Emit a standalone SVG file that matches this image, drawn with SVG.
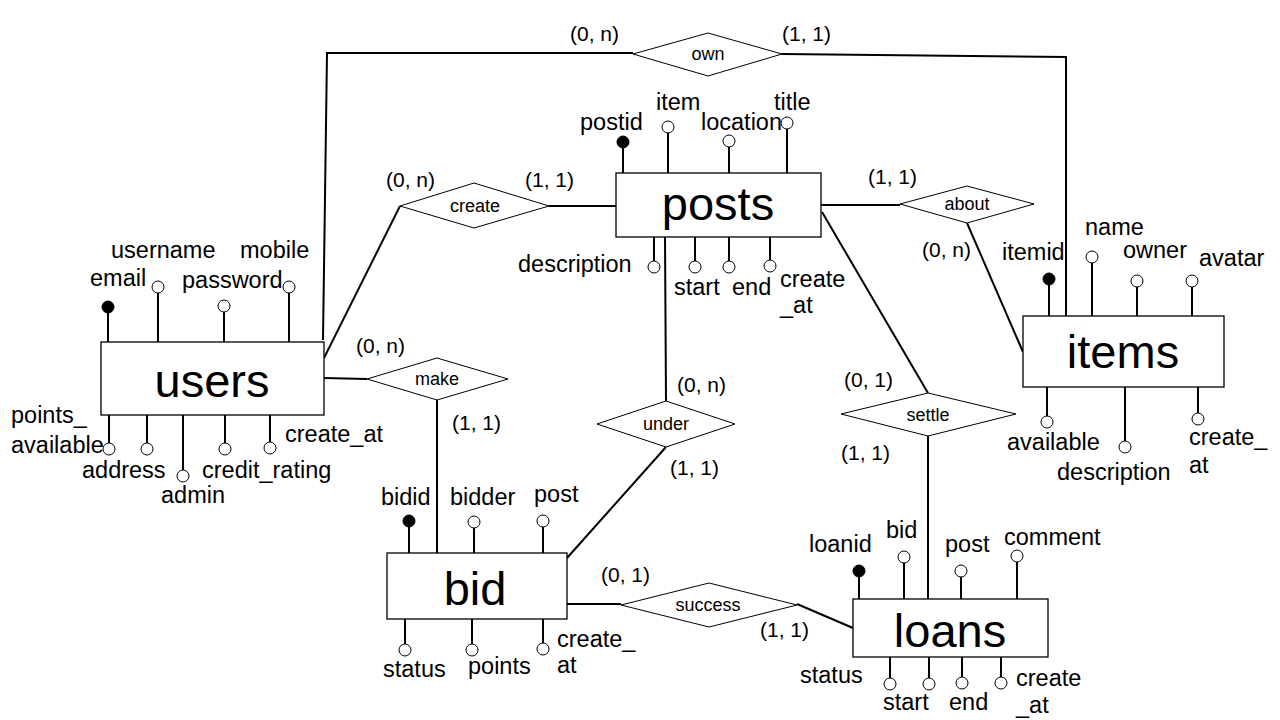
<svg xmlns="http://www.w3.org/2000/svg" width="1280" height="720" viewBox="0 0 1280 720">
<style>
text{font-family:"Liberation Sans",Arial,sans-serif;fill:#000}
.ent{fill:#fff;stroke:#000;stroke-width:1.3}
.ename{font-size:47px;text-anchor:middle}
.rel{fill:#fff;stroke:#000;stroke-width:1}
.rname{font-size:18px;text-anchor:middle}
.attr{font-size:23.5px}
.card{font-size:21px}
.al{stroke:#000;stroke-width:2;fill:none}
.ac{fill:#fff;stroke:#000;stroke-width:1}
.key{fill:#000;stroke:#000;stroke-width:1}
.conn{stroke:#000;stroke-width:2;fill:none}
</style>
<rect width="1280" height="720" fill="#fff"/>

<g id="connectors">
<polyline class="conn" points="323,340 327,53 633,53"/>
<polyline class="conn" points="782,54 1066,57 1066,316"/>
<line class="conn" x1="324" y1="358" x2="400" y2="206"/>
<line class="conn" x1="549" y1="206" x2="616" y2="206"/>
<line class="conn" x1="324" y1="378" x2="367" y2="379"/>
<line class="conn" x1="437" y1="400" x2="437" y2="553"/>
<line class="conn" x1="821" y1="205" x2="900" y2="205"/>
<line class="conn" x1="967" y1="223" x2="1023" y2="352"/>
<line class="conn" x1="822" y1="212" x2="928" y2="393"/>
<line class="conn" x1="928" y1="436" x2="928" y2="599"/>
<line class="conn" x1="665" y1="237" x2="666" y2="401"/>
<line class="conn" x1="666" y1="447" x2="567" y2="558"/>
<line class="conn" x1="567" y1="604" x2="621" y2="604"/>
<line class="conn" x1="797" y1="604" x2="853" y2="628"/>
<text class="card" x="570" y="41">(0, n)</text>
<text class="card" x="782" y="41">(1, 1)</text>
<text class="card" x="386" y="187">(0, n)</text>
<text class="card" x="525" y="187">(1, 1)</text>
<text class="card" x="356" y="353">(0, n)</text>
<text class="card" x="452" y="430">(1, 1)</text>
<text class="card" x="868" y="184">(1, 1)</text>
<text class="card" x="922" y="257">(0, n)</text>
<text class="card" x="844" y="387">(0, 1)</text>
<text class="card" x="841" y="460">(1, 1)</text>
<text class="card" x="677" y="392">(0, n)</text>
<text class="card" x="670" y="475">(1, 1)</text>
<text class="card" x="601" y="582">(0, 1)</text>
<text class="card" x="760" y="637">(1, 1)</text>
</g>

<g id="own">
<polygon class="rel" points="633,54 708,33 782,54 708,76"/>
<text class="rname" x="708" y="60">own</text>
</g>
<g id="create">
<polygon class="rel" points="400,206 474,183 549,206 474,228"/>
<text class="rname" x="475" y="212">create</text>
</g>
<g id="make">
<polygon class="rel" points="367,379 437,358 508,379 437,400"/>
<text class="rname" x="437" y="385">make</text>
</g>
<g id="about">
<polygon class="rel" points="900,204 967,186 1034,204 967,223"/>
<text class="rname" x="967" y="210">about</text>
</g>
<g id="under">
<polygon class="rel" points="597,424 666,401 735,424 666,447"/>
<text class="rname" x="666" y="430">under</text>
</g>
<g id="success">
<polygon class="rel" points="621,605 709,583 797,605 709,627"/>
<text class="rname" x="708" y="611">success</text>
</g>
<g id="settle">
<polygon class="rel" points="841,414 928,393 1016,414 928,436"/>
<text class="rname" x="928" y="421">settle</text>
</g>

<g id="users">
<path class="al" d="M108,313V342M158,293V342M224,312V342M289,293V342M109,415V443M147,415V443M183,415V470M225,415V443M270,415V442"/>
<circle class="key" cx="108" cy="307" r="6"/>
<circle class="ac" cx="158" cy="287" r="6"/>
<circle class="ac" cx="224" cy="306" r="6"/>
<circle class="ac" cx="289" cy="287" r="6"/>
<circle class="ac" cx="109" cy="449" r="6"/>
<circle class="ac" cx="147" cy="449" r="6"/>
<circle class="ac" cx="183" cy="476" r="6"/>
<circle class="ac" cx="225" cy="449" r="6"/>
<circle class="ac" cx="270" cy="448" r="6"/>
<rect class="ent" x="101" y="342" width="223" height="73"/>
<text class="ename" x="212" y="397">users</text>
<text class="attr" x="111" y="258">username</text>
<text class="attr" x="240" y="258">mobile</text>
<text class="attr" x="90" y="286">email</text>
<text class="attr" x="182" y="288">password</text>
<text class="attr" x="11" y="423">points_</text>
<text class="attr" x="11" y="453">available</text>
<text class="attr" x="82" y="478">address</text>
<text class="attr" x="161" y="503">admin</text>
<text class="attr" x="202" y="478">credit_rating</text>
<text class="attr" x="285" y="442">create_at</text>
</g>

<g id="posts">
<path class="al" d="M623,148V173M668,133V173M729,147V173M787,129V173M654,237V261M695,237V261M729,237V261M770,237V260"/>
<circle class="key" cx="623" cy="142" r="6"/>
<circle class="ac" cx="668" cy="127" r="6"/>
<circle class="ac" cx="729" cy="141" r="6"/>
<circle class="ac" cx="787" cy="123" r="6"/>
<circle class="ac" cx="654" cy="267" r="6"/>
<circle class="ac" cx="695" cy="267" r="6"/>
<circle class="ac" cx="729" cy="267" r="6"/>
<circle class="ac" cx="770" cy="266" r="6"/>
<rect class="ent" x="616" y="173" width="205" height="64"/>
<text class="ename" x="718" y="220">posts</text>
<text class="attr" x="580" y="130">postid</text>
<text class="attr" x="656" y="110">item</text>
<text class="attr" x="701" y="130">location</text>
<text class="attr" x="774" y="110">title</text>
<text class="attr" x="518" y="272">description</text>
<text class="attr" x="674" y="295">start</text>
<text class="attr" x="732" y="295">end</text>
<text class="attr" x="780" y="287">create</text>
<text class="attr" x="780" y="313">_at</text>
</g>

<g id="items">
<path class="al" d="M1049,285V316M1092,263V316M1137,287V316M1192,287V316M1047,387V416M1125,387V441M1198,387V413"/>
<circle class="key" cx="1049" cy="279" r="6"/>
<circle class="ac" cx="1092" cy="257" r="6"/>
<circle class="ac" cx="1137" cy="281" r="6"/>
<circle class="ac" cx="1192" cy="281" r="6"/>
<circle class="ac" cx="1047" cy="422" r="6"/>
<circle class="ac" cx="1125" cy="447" r="6"/>
<circle class="ac" cx="1198" cy="419" r="6"/>
<rect class="ent" x="1023" y="316" width="201" height="71"/>
<text class="ename" x="1123" y="368">items</text>
<text class="attr" x="1002" y="260">itemid</text>
<text class="attr" x="1085" y="235">name</text>
<text class="attr" x="1123" y="258">owner</text>
<text class="attr" x="1199" y="266">avatar</text>
<text class="attr" x="1007" y="450">available</text>
<text class="attr" x="1057" y="480">description</text>
<text class="attr" x="1189" y="445">create_</text>
<text class="attr" x="1189" y="473">at</text>
</g>

<g id="bid">
<path class="al" d="M409,527V553M474,528V553M543,527V553M405,619V644M472,619V644M543,619V643"/>
<circle class="key" cx="409" cy="521" r="6"/>
<circle class="ac" cx="474" cy="522" r="6"/>
<circle class="ac" cx="543" cy="521" r="6"/>
<circle class="ac" cx="405" cy="650" r="6"/>
<circle class="ac" cx="472" cy="650" r="6"/>
<circle class="ac" cx="543" cy="649" r="6"/>
<rect class="ent" x="387" y="553" width="180" height="66"/>
<text class="ename" x="475" y="605">bid</text>
<text class="attr" x="381" y="505">bidid</text>
<text class="attr" x="450" y="505">bidder</text>
<text class="attr" x="534" y="502">post</text>
<text class="attr" x="383" y="677">status</text>
<text class="attr" x="468" y="674">points</text>
<text class="attr" x="557" y="647">create_</text>
<text class="attr" x="557" y="673">at</text>
</g>

<g id="loans">
<path class="al" d="M859,577V599M904,563V599M961,577V599M1017,562V599M890,657V678M929,657V678M962,657V677M1001,657V677"/>
<circle class="key" cx="859" cy="571" r="6"/>
<circle class="ac" cx="904" cy="557" r="6"/>
<circle class="ac" cx="961" cy="571" r="6"/>
<circle class="ac" cx="1017" cy="556" r="6"/>
<circle class="ac" cx="890" cy="684" r="6"/>
<circle class="ac" cx="929" cy="684" r="6"/>
<circle class="ac" cx="962" cy="683" r="6"/>
<circle class="ac" cx="1001" cy="683" r="6"/>
<rect class="ent" x="853" y="599" width="195" height="58"/>
<text class="ename" x="950" y="647">loans</text>
<text class="attr" x="809" y="552">loanid</text>
<text class="attr" x="886" y="538">bid</text>
<text class="attr" x="945" y="552">post</text>
<text class="attr" x="1004" y="545">comment</text>
<text class="attr" x="800" y="683">status</text>
<text class="attr" x="883" y="710">start</text>
<text class="attr" x="949" y="710">end</text>
<text class="attr" x="1016" y="686">create</text>
<text class="attr" x="1016" y="713">_at</text>
</g>
</svg>
